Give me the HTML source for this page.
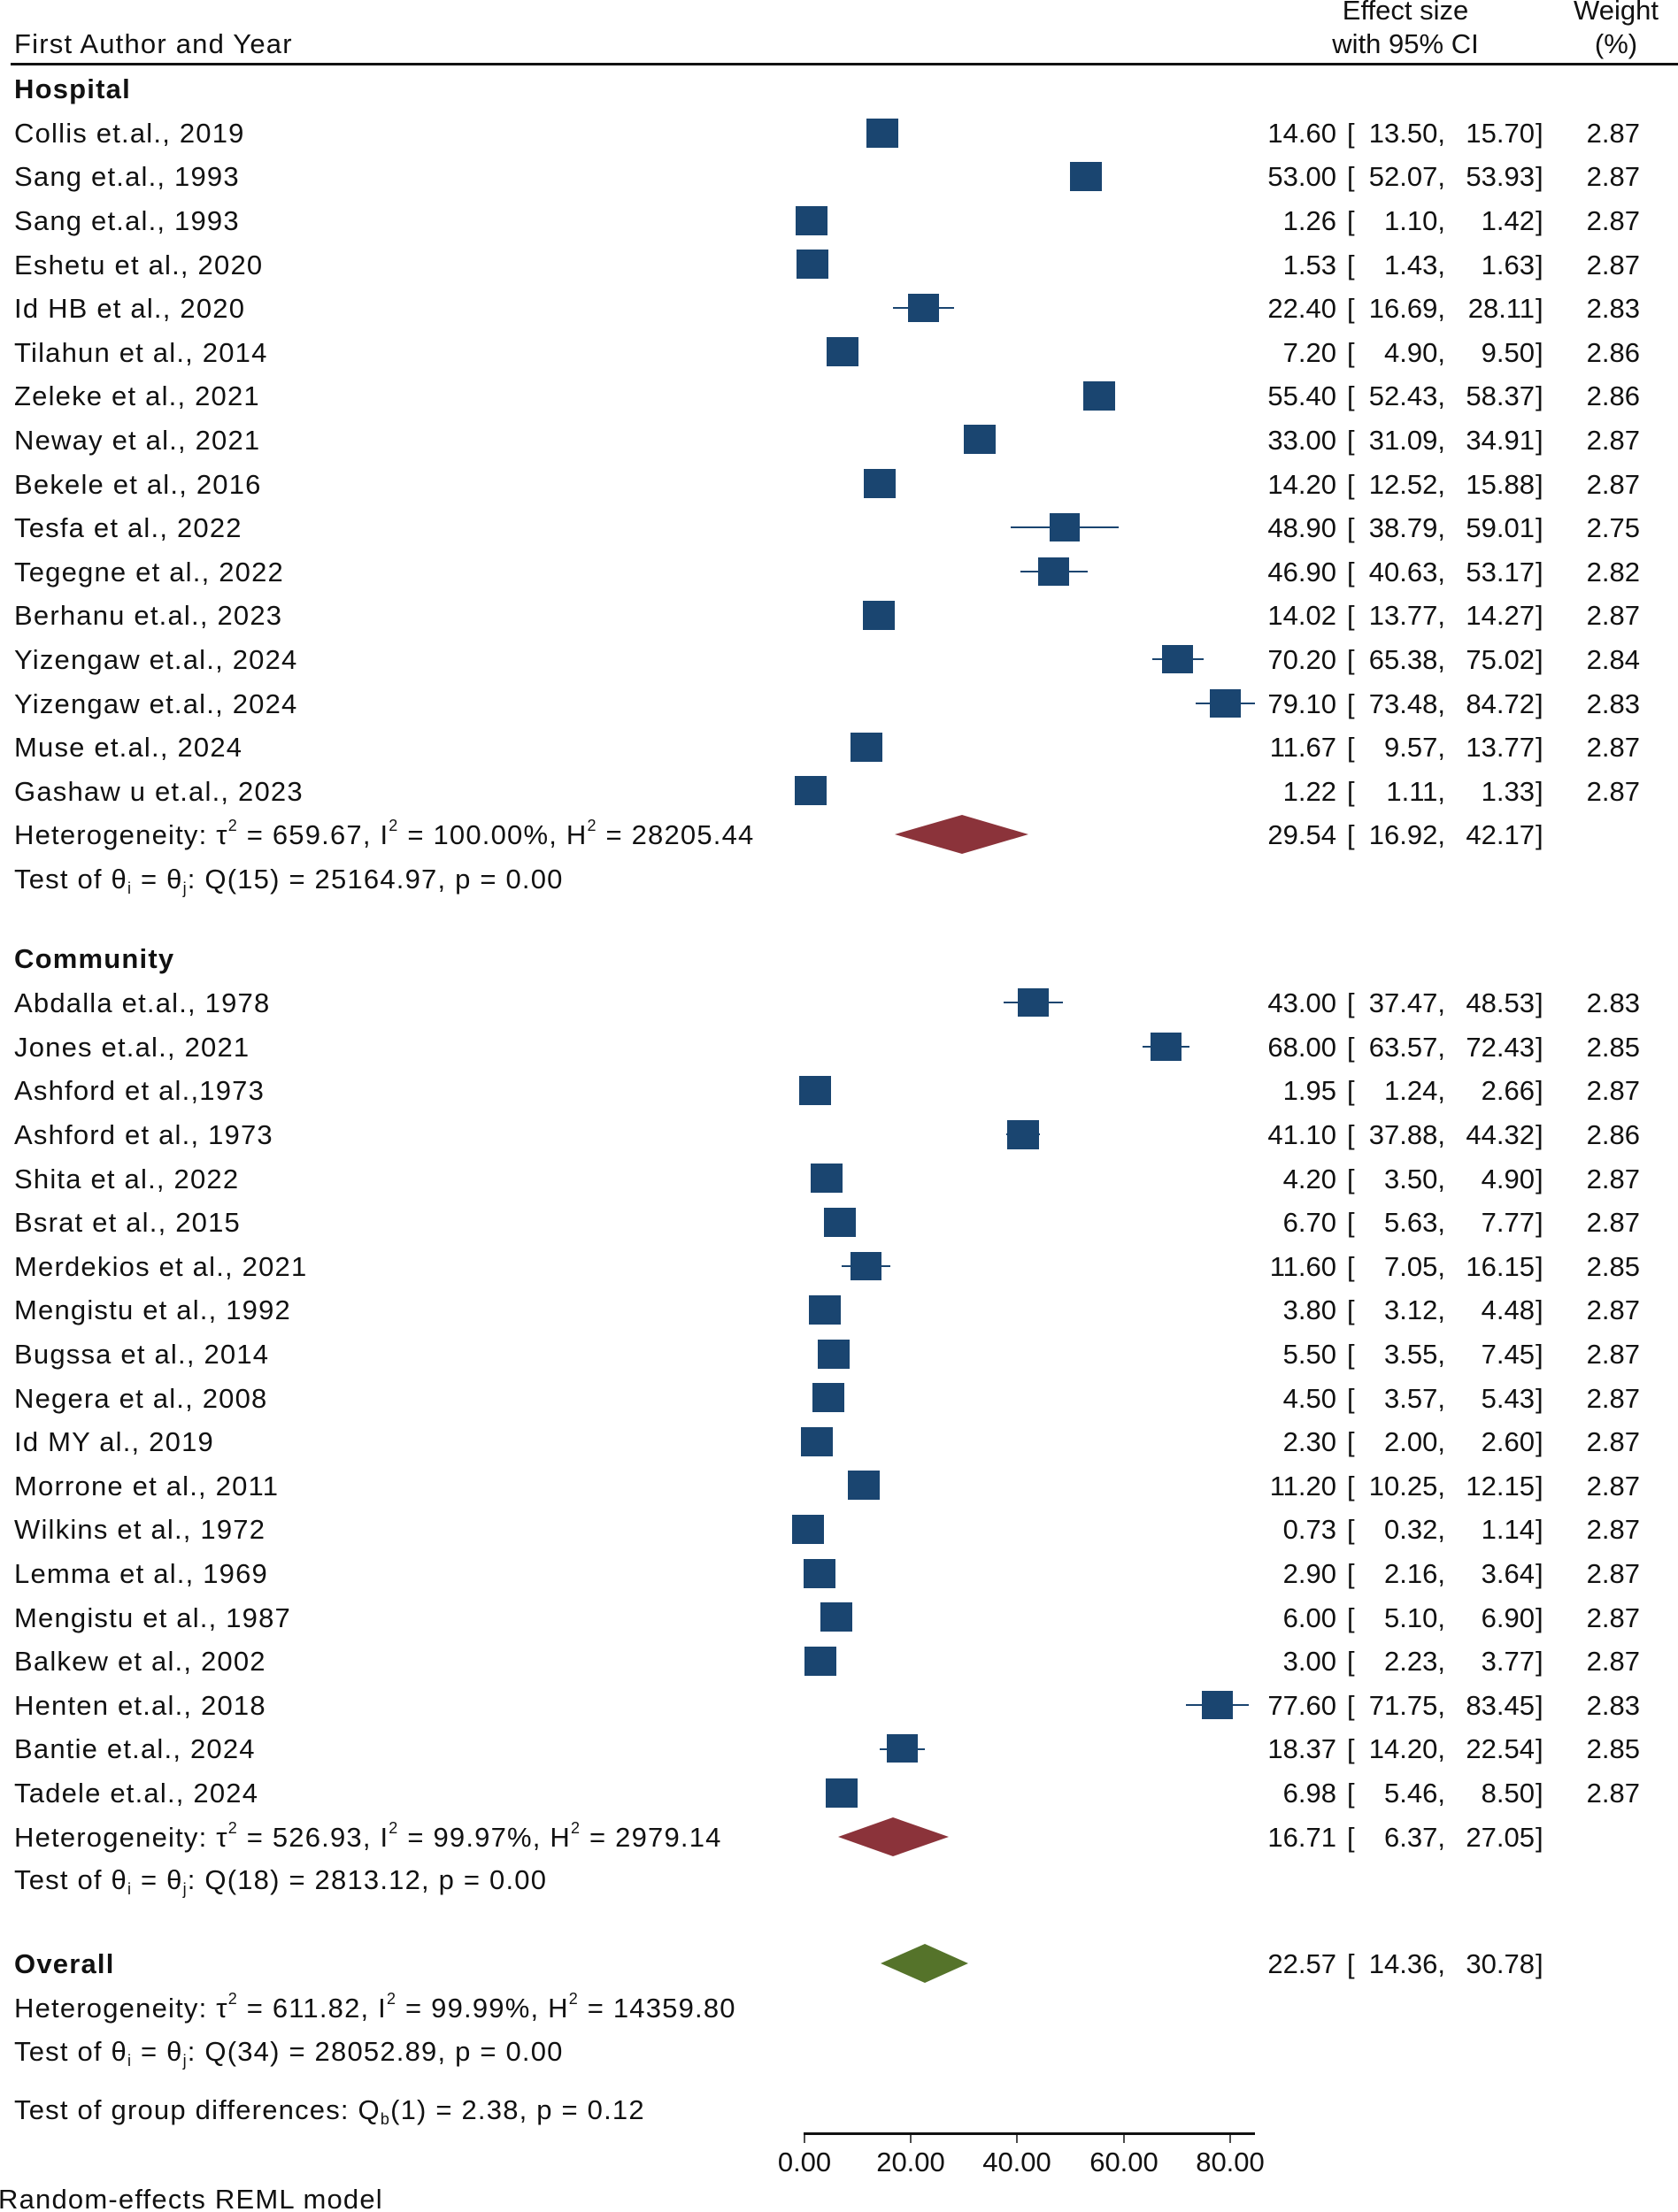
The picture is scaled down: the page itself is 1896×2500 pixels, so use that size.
<!DOCTYPE html>
<html><head><meta charset="utf-8"><style>
html,body{margin:0;padding:0;background:#fff;}
svg{display:block;}
text{font-family:"Liberation Sans",sans-serif;font-size:31px;fill:#111;}
.L text{letter-spacing:1.2px;}
.b{font-weight:bold;}
.s{font-size:18px;}
</style></head><body>
<svg width="1896" height="2500" viewBox="0 0 1896 2500" xmlns="http://www.w3.org/2000/svg">
<text x="1588" y="22" text-anchor="middle">Effect size</text>
<text x="1826" y="22" text-anchor="middle">Weight</text>
<text x="16" y="60" style="letter-spacing:1.2px">First Author and Year</text>
<text x="1588" y="60" text-anchor="middle">with 95% CI</text>
<text x="1826" y="60" text-anchor="middle">(%)</text>
<rect x="12" y="71" width="1884" height="3" fill="#111"/>
<g fill="#1a4570" stroke="#1a4570" stroke-width="2">
<line x1="1009" y1="348" x2="1078" y2="348"/>
<line x1="938" y1="398" x2="966" y2="398"/>
<line x1="1224" y1="447" x2="1260" y2="447"/>
<line x1="1096" y1="497" x2="1119" y2="497"/>
<line x1="1142" y1="596" x2="1264" y2="596"/>
<line x1="1153" y1="646" x2="1229" y2="646"/>
<line x1="1302" y1="745" x2="1360" y2="745"/>
<line x1="1351" y1="795" x2="1418" y2="795"/>
<line x1="1134" y1="1133" x2="1201" y2="1133"/>
<line x1="1291" y1="1183" x2="1344" y2="1183"/>
<line x1="1137" y1="1282" x2="1175" y2="1282"/>
<line x1="951" y1="1431" x2="1006" y2="1431"/>
<line x1="994" y1="1977" x2="1045" y2="1977"/>
<line x1="1340" y1="1927" x2="1411" y2="1927"/>
</g>
<g fill="#1a4570">
<rect x="979" y="134" width="36" height="33"/>
<rect x="1209" y="183" width="36" height="33"/>
<rect x="899" y="233" width="36" height="33"/>
<rect x="900" y="282" width="36" height="33"/>
<rect x="1026" y="332" width="35" height="32"/>
<rect x="934" y="381" width="36" height="33"/>
<rect x="1224" y="431" width="36" height="33"/>
<rect x="1089" y="480" width="36" height="33"/>
<rect x="976" y="530" width="36" height="33"/>
<rect x="1186" y="580" width="34" height="32"/>
<rect x="1173" y="630" width="35" height="32"/>
<rect x="975" y="679" width="36" height="33"/>
<rect x="1313" y="729" width="35" height="32"/>
<rect x="1367" y="779" width="35" height="32"/>
<rect x="961" y="828" width="36" height="33"/>
<rect x="898" y="877" width="36" height="33"/>
<rect x="1150" y="1117" width="35" height="32"/>
<rect x="1300" y="1167" width="35" height="32"/>
<rect x="903" y="1216" width="36" height="33"/>
<rect x="1138" y="1266" width="36" height="33"/>
<rect x="916" y="1315" width="36" height="33"/>
<rect x="931" y="1365" width="36" height="33"/>
<rect x="961" y="1415" width="35" height="32"/>
<rect x="914" y="1464" width="36" height="33"/>
<rect x="924" y="1514" width="36" height="33"/>
<rect x="918" y="1563" width="36" height="33"/>
<rect x="905" y="1613" width="36" height="33"/>
<rect x="958" y="1662" width="36" height="33"/>
<rect x="895" y="1712" width="36" height="33"/>
<rect x="908" y="1762" width="36" height="33"/>
<rect x="927" y="1811" width="36" height="33"/>
<rect x="909" y="1861" width="36" height="33"/>
<rect x="1358" y="1911" width="35" height="32"/>
<rect x="1002" y="1960" width="35" height="32"/>
<rect x="933" y="2010" width="36" height="33"/>
</g>
<polygon points="1011,943 1087,921 1162,943 1087,965" fill="#8b333a"/>
<polygon points="947,2076 1009,2054 1072,2076 1009,2098" fill="#8b333a"/>
<polygon points="995,2219 1045,2197 1094,2219 1045,2241" fill="#55732a"/>

<g class="L">
<text x="16" y="111" class="b">Hospital</text>
<text x="16" y="161">Collis et.al., 2019</text>
<text x="16" y="210">Sang et.al., 1993</text>
<text x="16" y="260">Sang et.al., 1993</text>
<text x="16" y="310">Eshetu et al., 2020</text>
<text x="16" y="359">Id HB et al., 2020</text>
<text x="16" y="409">Tilahun et al., 2014</text>
<text x="16" y="458">Zeleke et al., 2021</text>
<text x="16" y="508">Neway et al., 2021</text>
<text x="16" y="558">Bekele et al., 2016</text>
<text x="16" y="607">Tesfa et al., 2022</text>
<text x="16" y="657">Tegegne et al., 2022</text>
<text x="16" y="706">Berhanu et.al., 2023</text>
<text x="16" y="756">Yizengaw et.al., 2024</text>
<text x="16" y="806">Yizengaw et.al., 2024</text>
<text x="16" y="855">Muse et.al., 2024</text>
<text x="16" y="905">Gashaw u et.al., 2023</text>
<text x="16" y="954">Heterogeneity: τ<tspan dy="-15" class="s">2</tspan><tspan dy="15"> = 659.67, I</tspan><tspan dy="-15" class="s">2</tspan><tspan dy="15"> = 100.00%, H</tspan><tspan dy="-15" class="s">2</tspan><tspan dy="15"> = 28205.44</tspan></text>
<text x="16" y="1004">Test of θ<tspan dy="6" class="s">i</tspan><tspan dy="-6"> = θ</tspan><tspan dy="6" class="s">j</tspan><tspan dy="-6">: Q(15) = 25164.97, p = 0.00</tspan></text>
<text x="16" y="1094" class="b">Community</text>
<text x="16" y="1144">Abdalla et.al., 1978</text>
<text x="16" y="1194">Jones et.al., 2021</text>
<text x="16" y="1243">Ashford et al.,1973</text>
<text x="16" y="1293">Ashford et al., 1973</text>
<text x="16" y="1343">Shita et al., 2022</text>
<text x="16" y="1392">Bsrat et al., 2015</text>
<text x="16" y="1442">Merdekios et al., 2021</text>
<text x="16" y="1491">Mengistu et al., 1992</text>
<text x="16" y="1541">Bugssa et al., 2014</text>
<text x="16" y="1591">Negera et al., 2008</text>
<text x="16" y="1640">Id MY al., 2019</text>
<text x="16" y="1690">Morrone et al., 2011</text>
<text x="16" y="1739">Wilkins et al., 1972</text>
<text x="16" y="1789">Lemma et al., 1969</text>
<text x="16" y="1839">Mengistu et al., 1987</text>
<text x="16" y="1888">Balkew et al., 2002</text>
<text x="16" y="1938">Henten et.al., 2018</text>
<text x="16" y="1987">Bantie et.al., 2024</text>
<text x="16" y="2037">Tadele et.al., 2024</text>
<text x="16" y="2087">Heterogeneity: τ<tspan dy="-15" class="s">2</tspan><tspan dy="15"> = 526.93, I</tspan><tspan dy="-15" class="s">2</tspan><tspan dy="15"> = 99.97%, H</tspan><tspan dy="-15" class="s">2</tspan><tspan dy="15"> = 2979.14</tspan></text>
<text x="16" y="2135">Test of θ<tspan dy="6" class="s">i</tspan><tspan dy="-6"> = θ</tspan><tspan dy="6" class="s">j</tspan><tspan dy="-6">: Q(18) = 2813.12, p = 0.00</tspan></text>
<text x="16" y="2230" class="b">Overall</text>
<text x="16" y="2280">Heterogeneity: τ<tspan dy="-15" class="s">2</tspan><tspan dy="15"> = 611.82, I</tspan><tspan dy="-15" class="s">2</tspan><tspan dy="15"> = 99.99%, H</tspan><tspan dy="-15" class="s">2</tspan><tspan dy="15"> = 14359.80</tspan></text>
<text x="16" y="2329">Test of θ<tspan dy="6" class="s">i</tspan><tspan dy="-6"> = θ</tspan><tspan dy="6" class="s">j</tspan><tspan dy="-6">: Q(34) = 28052.89, p = 0.00</tspan></text>
<text x="16" y="2395">Test of group differences: Q<tspan dy="6" class="s">b</tspan><tspan dy="-6">(1) = 2.38, p = 0.12</tspan></text>
<text x="-2" y="2496">Random-effects REML model</text>
</g>

<g>
<g text-anchor="end">
<text x="1510" y="161">14.60</text><text x="1510" y="210">53.00</text><text x="1510" y="260">1.26</text><text x="1510" y="310">1.53</text><text x="1510" y="359">22.40</text><text x="1510" y="409">7.20</text><text x="1510" y="458">55.40</text><text x="1510" y="508">33.00</text><text x="1510" y="558">14.20</text><text x="1510" y="607">48.90</text><text x="1510" y="657">46.90</text><text x="1510" y="706">14.02</text><text x="1510" y="756">70.20</text><text x="1510" y="806">79.10</text><text x="1510" y="855">11.67</text><text x="1510" y="905">1.22</text><text x="1510" y="954">29.54</text>
<text x="1510" y="1144">43.00</text><text x="1510" y="1194">68.00</text><text x="1510" y="1243">1.95</text><text x="1510" y="1293">41.10</text><text x="1510" y="1343">4.20</text><text x="1510" y="1392">6.70</text><text x="1510" y="1442">11.60</text><text x="1510" y="1491">3.80</text><text x="1510" y="1541">5.50</text><text x="1510" y="1591">4.50</text><text x="1510" y="1640">2.30</text><text x="1510" y="1690">11.20</text><text x="1510" y="1739">0.73</text><text x="1510" y="1789">2.90</text><text x="1510" y="1839">6.00</text><text x="1510" y="1888">3.00</text><text x="1510" y="1938">77.60</text><text x="1510" y="1987">18.37</text><text x="1510" y="2037">6.98</text><text x="1510" y="2087">16.71</text><text x="1510" y="2230">22.57</text>
<text x="1633" y="161">13.50,</text><text x="1633" y="210">52.07,</text><text x="1633" y="260">1.10,</text><text x="1633" y="310">1.43,</text><text x="1633" y="359">16.69,</text><text x="1633" y="409">4.90,</text><text x="1633" y="458">52.43,</text><text x="1633" y="508">31.09,</text><text x="1633" y="558">12.52,</text><text x="1633" y="607">38.79,</text><text x="1633" y="657">40.63,</text><text x="1633" y="706">13.77,</text><text x="1633" y="756">65.38,</text><text x="1633" y="806">73.48,</text><text x="1633" y="855">9.57,</text><text x="1633" y="905">1.11,</text><text x="1633" y="954">16.92,</text>
<text x="1633" y="1144">37.47,</text><text x="1633" y="1194">63.57,</text><text x="1633" y="1243">1.24,</text><text x="1633" y="1293">37.88,</text><text x="1633" y="1343">3.50,</text><text x="1633" y="1392">5.63,</text><text x="1633" y="1442">7.05,</text><text x="1633" y="1491">3.12,</text><text x="1633" y="1541">3.55,</text><text x="1633" y="1591">3.57,</text><text x="1633" y="1640">2.00,</text><text x="1633" y="1690">10.25,</text><text x="1633" y="1739">0.32,</text><text x="1633" y="1789">2.16,</text><text x="1633" y="1839">5.10,</text><text x="1633" y="1888">2.23,</text><text x="1633" y="1938">71.75,</text><text x="1633" y="1987">14.20,</text><text x="1633" y="2037">5.46,</text><text x="1633" y="2087">6.37,</text><text x="1633" y="2230">14.36,</text>
<text x="1734" y="161">15.70</text><text x="1734" y="210">53.93</text><text x="1734" y="260">1.42</text><text x="1734" y="310">1.63</text><text x="1734" y="359">28.11</text><text x="1734" y="409">9.50</text><text x="1734" y="458">58.37</text><text x="1734" y="508">34.91</text><text x="1734" y="558">15.88</text><text x="1734" y="607">59.01</text><text x="1734" y="657">53.17</text><text x="1734" y="706">14.27</text><text x="1734" y="756">75.02</text><text x="1734" y="806">84.72</text><text x="1734" y="855">13.77</text><text x="1734" y="905">1.33</text><text x="1734" y="954">42.17</text>
<text x="1734" y="1144">48.53</text><text x="1734" y="1194">72.43</text><text x="1734" y="1243">2.66</text><text x="1734" y="1293">44.32</text><text x="1734" y="1343">4.90</text><text x="1734" y="1392">7.77</text><text x="1734" y="1442">16.15</text><text x="1734" y="1491">4.48</text><text x="1734" y="1541">7.45</text><text x="1734" y="1591">5.43</text><text x="1734" y="1640">2.60</text><text x="1734" y="1690">12.15</text><text x="1734" y="1739">1.14</text><text x="1734" y="1789">3.64</text><text x="1734" y="1839">6.90</text><text x="1734" y="1888">3.77</text><text x="1734" y="1938">83.45</text><text x="1734" y="1987">22.54</text><text x="1734" y="2037">8.50</text><text x="1734" y="2087">27.05</text><text x="1734" y="2230">30.78</text>
<text x="1853" y="161">2.87</text><text x="1853" y="210">2.87</text><text x="1853" y="260">2.87</text><text x="1853" y="310">2.87</text><text x="1853" y="359">2.83</text><text x="1853" y="409">2.86</text><text x="1853" y="458">2.86</text><text x="1853" y="508">2.87</text><text x="1853" y="558">2.87</text><text x="1853" y="607">2.75</text><text x="1853" y="657">2.82</text><text x="1853" y="706">2.87</text><text x="1853" y="756">2.84</text><text x="1853" y="806">2.83</text><text x="1853" y="855">2.87</text><text x="1853" y="905">2.87</text>
<text x="1853" y="1144">2.83</text><text x="1853" y="1194">2.85</text><text x="1853" y="1243">2.87</text><text x="1853" y="1293">2.86</text><text x="1853" y="1343">2.87</text><text x="1853" y="1392">2.87</text><text x="1853" y="1442">2.85</text><text x="1853" y="1491">2.87</text><text x="1853" y="1541">2.87</text><text x="1853" y="1591">2.87</text><text x="1853" y="1640">2.87</text><text x="1853" y="1690">2.87</text><text x="1853" y="1739">2.87</text><text x="1853" y="1789">2.87</text><text x="1853" y="1839">2.87</text><text x="1853" y="1888">2.87</text><text x="1853" y="1938">2.83</text><text x="1853" y="1987">2.85</text><text x="1853" y="2037">2.87</text>
</g>
<g>
<text x="1522" y="161">[</text><text x="1522" y="210">[</text><text x="1522" y="260">[</text><text x="1522" y="310">[</text><text x="1522" y="359">[</text><text x="1522" y="409">[</text><text x="1522" y="458">[</text><text x="1522" y="508">[</text><text x="1522" y="558">[</text><text x="1522" y="607">[</text><text x="1522" y="657">[</text><text x="1522" y="706">[</text><text x="1522" y="756">[</text><text x="1522" y="806">[</text><text x="1522" y="855">[</text><text x="1522" y="905">[</text><text x="1522" y="954">[</text>
<text x="1522" y="1144">[</text><text x="1522" y="1194">[</text><text x="1522" y="1243">[</text><text x="1522" y="1293">[</text><text x="1522" y="1343">[</text><text x="1522" y="1392">[</text><text x="1522" y="1442">[</text><text x="1522" y="1491">[</text><text x="1522" y="1541">[</text><text x="1522" y="1591">[</text><text x="1522" y="1640">[</text><text x="1522" y="1690">[</text><text x="1522" y="1739">[</text><text x="1522" y="1789">[</text><text x="1522" y="1839">[</text><text x="1522" y="1888">[</text><text x="1522" y="1938">[</text><text x="1522" y="1987">[</text><text x="1522" y="2037">[</text><text x="1522" y="2087">[</text><text x="1522" y="2230">[</text>
<text x="1735" y="161">]</text><text x="1735" y="210">]</text><text x="1735" y="260">]</text><text x="1735" y="310">]</text><text x="1735" y="359">]</text><text x="1735" y="409">]</text><text x="1735" y="458">]</text><text x="1735" y="508">]</text><text x="1735" y="558">]</text><text x="1735" y="607">]</text><text x="1735" y="657">]</text><text x="1735" y="706">]</text><text x="1735" y="756">]</text><text x="1735" y="806">]</text><text x="1735" y="855">]</text><text x="1735" y="905">]</text><text x="1735" y="954">]</text>
<text x="1735" y="1144">]</text><text x="1735" y="1194">]</text><text x="1735" y="1243">]</text><text x="1735" y="1293">]</text><text x="1735" y="1343">]</text><text x="1735" y="1392">]</text><text x="1735" y="1442">]</text><text x="1735" y="1491">]</text><text x="1735" y="1541">]</text><text x="1735" y="1591">]</text><text x="1735" y="1640">]</text><text x="1735" y="1690">]</text><text x="1735" y="1739">]</text><text x="1735" y="1789">]</text><text x="1735" y="1839">]</text><text x="1735" y="1888">]</text><text x="1735" y="1938">]</text><text x="1735" y="1987">]</text><text x="1735" y="2037">]</text><text x="1735" y="2087">]</text><text x="1735" y="2230">]</text>
</g>
</g>

<rect x="908" y="2410" width="510" height="3" fill="#111"/>
<g stroke="#111" stroke-width="1.5">
<line x1="909" y1="2411" x2="909" y2="2422"/>
<line x1="1029" y1="2411" x2="1029" y2="2422"/>
<line x1="1149" y1="2411" x2="1149" y2="2422"/>
<line x1="1270" y1="2411" x2="1270" y2="2422"/>
<line x1="1390" y1="2411" x2="1390" y2="2422"/>
</g>
<g text-anchor="middle">
<text x="909" y="2454">0.00</text>
<text x="1029" y="2454">20.00</text>
<text x="1149" y="2454">40.00</text>
<text x="1270" y="2454">60.00</text>
<text x="1390" y="2454">80.00</text>
</g>
</svg>
</body></html>
